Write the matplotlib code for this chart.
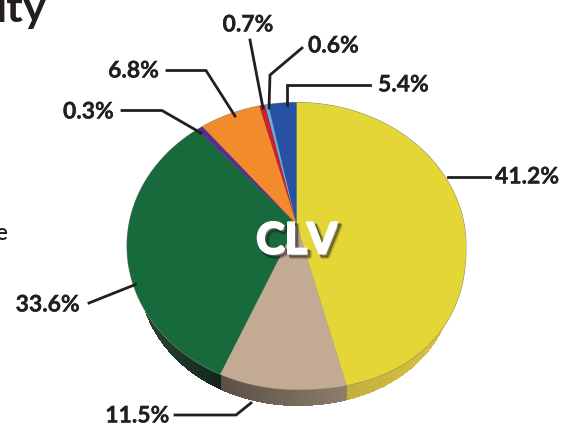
#!/usr/bin/env python
"""CLV pie chart, drawn in pixel coordinates with a tilted 3D look"""

import numpy as np
import matplotlib.pyplot as plt
import matplotlib.patheffects as pe

plt.rcParams['font.family'] = ['Lato', 'DejaVu Sans']

# printed labels, clockwise from the top
labelled_pct = [41.2, 11.5, 33.6, 0.3, 6.8, 0.7, 0.6, 5.4]
# the slices as drawn in the picture do not quite follow the printed numbers
drawn_pct = [45.9, 10.5, 32.1, 0.7, 6.7, 0.66, 0.34, 3.1]
colors = ['#e3d636', '#c3aa92', '#166a3c', '#5b2d8f',
          '#f28b2c', '#c8202f', '#5bb4e5', '#2751a3']

# ellipse of the top face (pixels), k = perspective strength
cx, cy, rx, ry = 296.5, 246.0, 169.5, 143.5
k = 0.153
# ellipse of the bottom edge
cx2, cy2, rx2, ry2 = 296.5, 276.0, 158.0, 130.0


def lower_edge(x, x0, y0, a, b, bulge):
    # lower outline of an ellipse, squarer on the right hand side
    dx = np.abs((x - x0) / a)
    n = np.where(x > x0, bulge, 2.0)
    return y0 + b * np.clip(1 - dx**n, 0, None)**(1 / n)


def rim(frac):
    # fraction of the circle (clockwise from top) to a pixel position
    t = 2 * np.pi * np.asarray(frac)
    u, v = np.sin(t), np.cos(t)
    a = rx * np.sqrt(1 - k**2)
    d = 1 + k * v
    x = cx + a * u / d
    y = cy - (ry * v + ry * k) / d
    return x, np.where(y > cy, lower_edge(x, cx, cy, rx, ry, 2.25), y)


fig = plt.figure(figsize=(5.74, 4.24), dpi=100)
ax = fig.add_axes([0, 0, 1, 1])
ax.set_xlim(0, 574)
ax.set_ylim(424, 0)
ax.axis('off')

edges = np.cumsum([0] + drawn_pct) / np.sum(drawn_pct)

# side wall, one thin column at a time so the shading can vary
x_yellow = rim(edges[1])[0]
x_green = rim(edges[2])[0]
for x in np.arange(130, 464, 1.0):
    y_top = lower_edge(x, cx, cy, rx, ry, 2.25)
    y_bot = lower_edge(x, cx2, cy2, rx2, ry2, 2.1)
    if y_bot <= y_top:
        continue
    if x >= x_yellow:
        s = (x - x_yellow) / (464 - x_yellow)
        col = np.array([0.76, 0.69, 0.24]) * (1 - s) + np.array([0.86, 0.78, 0.25]) * s
    elif x >= x_green:
        s = (x - x_green) / (x_yellow - x_green)
        col = np.array([0.35, 0.31, 0.27]) * (1 - s) + np.array([0.56, 0.49, 0.42]) * s
    else:
        s = (x - 130) / (x_green - 130)
        col = np.array([0.17, 0.29, 0.22]) * (1 - s) + np.array([0.07, 0.15, 0.10]) * s
    ax.fill_between([x, x + 1.2], y_top - 1, y_bot, color=col, lw=0, zorder=1)

# top face
apex = rim(0.0)[0], cy - ry * k
ax.fill(*rim(np.linspace(0, 1, 400)), color='#8a8a70', lw=0.7, zorder=2)
for i, c in enumerate(colors):
    xs, ys = rim(np.linspace(edges[i], edges[i + 1], 120))
    ax.fill(np.r_[apex[0], xs], np.r_[apex[1], ys], color=c, lw=0, zorder=3)

# leader lines and their labels
ink = '#231f20'
leaders = [
    ([448, 490], [177, 177]),
    ([251, 236, 175], [403, 415, 415]),
    ([135.5, 89], [284.5, 303]),
    ([201, 162, 122], [133, 110.5, 110.5]),
    ([235, 206, 167], [116, 70.5, 70.5]),
    ([263, 250], [108, 40]),
    ([269, 270, 302], [108, 75, 48]),
    ([286.5, 286.5, 370], [105, 84.5, 84.5]),
]
anchors = [(495, 177, 'left'), (169, 416, 'right'), (80, 305, 'right'),
           (114, 112, 'right'), (159, 71, 'right'), (248, 25, 'center'),
           (308, 46, 'left'), (378, 85, 'left')]
for pct, (lx, ly), (tx, ty, ha) in zip(labelled_pct, leaders, anchors):
    ax.plot(lx, ly, color=ink, lw=2.0, solid_joinstyle='miter', zorder=4)
    ax.text(tx, ty, f'{pct}%', ha=ha, va='center', fontsize=16.5,
            fontweight='bold', color=ink, zorder=5,
            path_effects=[pe.withStroke(linewidth=0.2, foreground=ink)])

# centre label with a soft shadow
ax.text(296.5, 240.5, 'CLV', ha='center', va='center', fontsize=31,
        fontweight='bold', color='white', zorder=6,
        path_effects=[pe.Stroke(linewidth=3.5, foreground='black', alpha=0.2, offset=(2.2, -2.2)),
                      pe.Stroke(linewidth=2, foreground='black', alpha=0.45, offset=(1.8, -1.8)),
                      pe.Stroke(linewidth=1.6, foreground='white'),
                      pe.Normal()])

# pieces of neighbouring text cut off by the crop
ax.text(47, 22, 'ity', ha='right', va='baseline', fontsize=32,
        fontweight='bold', color=ink)
ax.text(7, 240, 'e', ha='right', va='baseline', fontsize=16,
        fontweight='semibold', color=ink)

fig.savefig('out.png', dpi=100)
